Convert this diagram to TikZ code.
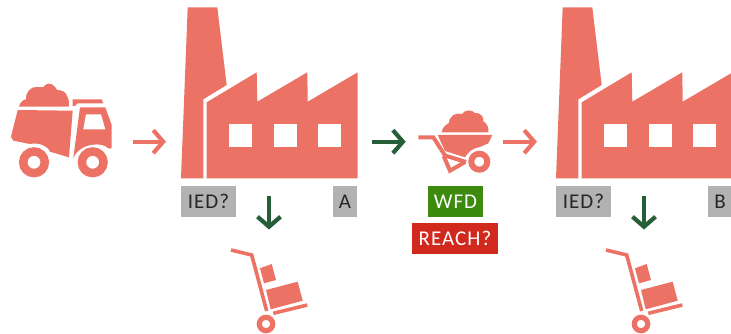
\documentclass[tikz,border=0pt]{standalone}
\usepackage{fontspec}
\setmainfont[LetterSpace=5]{Carlito}
\usetikzlibrary{
    arrows.meta,
    positioning
}
\definecolor{salmon}{HTML}{EB7264}
\definecolor{darkgreen}{HTML}{265E38}
\definecolor{tagred}{HTML}{D1291E}
\definecolor{taggreen}{HTML}{3C8A0E}
\definecolor{taggrey}{HTML}{B2B2B2}
\tikzset{
    salmonline/.style={draw=salmon, line width=3.6pt, line join=miter},
    tag/.style={minimum height=31pt, inner sep=0pt, font=\fontsize{21}{21}\selectfont},
    greytag/.style={tag, fill=taggrey, text=black!85},
    flow/.style={line width=4.2pt, -{Straight Barb[length=10pt, width=23pt, line width=4.2pt]}},
    pics/factory/.style={code={
        \fill[salmon] (187.7,7.3) -- (217.3,7.3) -- (226.7,85) -- (203.3,99.3) -- (203.3,178.3) -- (181,178.3) -- cycle;
        \fill[salmon] (206.7,102.3) -- (256.7,72.3) -- (257.3,101.7) -- (307.3,72.3) -- (307.7,101.7) -- (357.7,72.3) -- (357.7,178.3) -- (206.7,178.3) -- cycle;
        \fill[white] (229,124) rectangle (252,146.7);
        \fill[white] (274,124) rectangle (297,146.7);
        \fill[white] (318,124) rectangle (341,146.7);
    }},
    pics/trolley/.style={code={
        \draw[salmonline] (231,250) -- (251.7,255) -- (266.7,311);
        \draw[salmonline] (273.3,313.3) -- (307.3,305);
        \fill[salmon] (260,268.3) -- (271.7,264) -- (276,280) -- (264,283.3) -- cycle;
        \fill[salmon] (266,290) -- (297.7,281.7) -- (302.7,300.7) -- (270.7,309.3) -- cycle;
        \draw[salmon, line width=5.2pt] (266,324) circle (6.7);
    }}
}
\begin{document}
\begin{tikzpicture}[x=1pt, y=-1pt]
    \useasboundingbox (0,0) rectangle (731,334);

    % truck
    \fill[salmon] (19,106.7) .. controls (20,103) and (22,100) .. (26,99.3)
        .. controls (25,93) and (31,86) .. (37,87) .. controls (39,87) and (42,87) .. (43.3,87.3)
        .. controls (45,83) and (52,82) .. (55,87) .. controls (56,88) and (57,89) .. (57.3,90)
        .. controls (62,90) and (66,92) .. (67,96) .. controls (69,99) and (69,103) .. (69,106.7) -- cycle;
    \fill[salmon] (17.7,110) -- (72.7,110.7) -- (69,157.3) -- (50,151.7)
        .. controls (48,146) and (38,142) .. (30,144) -- (13.3,140.7) -- (11,136.7) -- cycle;
    \fill[salmon] (72.7,99.3) -- (101.7,99.3) -- (103.3,103.3) -- (77.5,103.3) -- (75,106) -- (72.7,106) -- cycle;
    \fill[salmon] (80,107.3) -- (105.3,107.3) -- (111.7,125) -- (111.7,148.3) -- (108.3,148.3)
        .. controls (103,142) and (80,142) .. (73.3,158.3) -- cycle;
    \fill[white] (86,114.3) -- (101,114.3) -- (105.3,129.3) -- (83.3,129.3) -- cycle;
    \draw[salmon, line width=8.5pt] (34,162.3) circle (10.8);
    \draw[salmon, line width=8.5pt] (92.7,162.3) circle (10.8);

    % wheelbarrow
    \fill[salmon] (441.7,132.3) .. controls (442,127) and (447,124) .. (449,123)
        .. controls (449,116) and (456,112) .. (462,114) .. controls (464,110) and (472,109) .. (475,113)
        .. controls (482,113) and (484,118) .. (483,121) .. controls (487,123) and (489,128) .. (488.3,132.3) -- cycle;
    \fill[salmon] (437.7,135) -- (492.3,135) -- (488.3,143.3) -- (480,147)
        .. controls (473,148) and (468,152) .. (465,157.3) -- (445,151) -- cycle;
    \draw[salmonline, line width=4pt] (418.3,137.3) -- (433.3,137.3) -- (445,155.5) -- (466,162);
    \draw[salmonline, line width=4pt] (443.6,156) -- (450,170.7) -- (465,162);
    \draw[salmon, line width=6pt] (479.3,161.7) circle (8);

    % factories and trolleys
    \pic (plantA) at (0,0) {factory};
    \pic (plantB) at (375,0) {factory};
    \pic (cartA) at (0,0) {trolley};
    \pic (cartB) at (375,0) {trolley};

    % tags
    \node[greytag, minimum width=55pt] (iedA) at (208.5,201.5) {IED?};
    \node[greytag, minimum width=24pt] (tagA) at (345,201.5) {A};
    \node[greytag, minimum width=55pt] (iedB) at (583.5,201.5) {IED?};
    \node[greytag, minimum width=24pt] (tagB) at (720,201.5) {B};
    \node[tag, fill=taggreen, text=white, minimum width=55pt] (wfd) at (455.5,201.5) {WFD};
    \node[tag, fill=tagred, text=white, minimum width=86pt] (reach) at (455,238.5) {REACH?};

    % arrow ends
    \coordinate (truckout) at (132.7,141.7);
    \coordinate (plantAin) at (166,141.7);
    \coordinate (plantAout) at (372,141.7);
    \coordinate (barrowin) at (405.7,141.7);
    \coordinate (barrowout) at (503,141.7);
    \coordinate (plantBin) at (537,141.7);
    \coordinate (wasteAtop) at (269,196);
    \coordinate (wasteAend) at (269,229.5);
    \coordinate (wasteBtop) at (644,196);
    \coordinate (wasteBend) at (644,229.5);

    \draw
    (truckout) edge[flow, salmon] (plantAin)
    (plantAout) edge[flow, darkgreen] (barrowin)
    (barrowout) edge[flow, salmon] (plantBin)
    (wasteAtop) edge[flow, darkgreen] (wasteAend)
    (wasteBtop) edge[flow, darkgreen] (wasteBend);
\end{tikzpicture}
\end{document}
